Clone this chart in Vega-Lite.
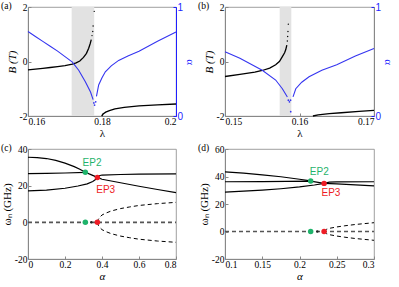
{
  "$schema": "https://vega.github.io/schema/vega-lite/v6.json",
  "padding": {"left": 0, "top": 0, "right": 0, "bottom": 0},
  "columns": 2,
  "spacing": {"row": 33, "column": 49},
  "bounds": "flush",
  "datasets": {
    "aB": [
      {"l": 0.16, "v": -0.31, "s": 1}, {"l": 0.162, "v": -0.28, "s": 1}, {"l": 0.164, "v": -0.25, "s": 1},
      {"l": 0.166, "v": -0.22, "s": 1}, {"l": 0.168, "v": -0.185, "s": 1}, {"l": 0.17, "v": -0.15, "s": 1},
      {"l": 0.172, "v": -0.1, "s": 1}, {"l": 0.173, "v": -0.05, "s": 1}, {"l": 0.174, "v": 0.02, "s": 1},
      {"l": 0.175, "v": 0.15, "s": 1}, {"l": 0.1758, "v": 0.3, "s": 1}, {"l": 0.1764, "v": 0.49, "s": 1},
      {"l": 0.1768, "v": 0.65, "s": 1}, {"l": 0.1771, "v": 0.8, "s": 1},
      {"l": 0.1799, "v": -2, "s": 2}, {"l": 0.1803, "v": -1.93, "s": 2}, {"l": 0.181, "v": -1.86, "s": 2},
      {"l": 0.182, "v": -1.8, "s": 2}, {"l": 0.1835, "v": -1.74, "s": 2}, {"l": 0.186, "v": -1.68, "s": 2},
      {"l": 0.19, "v": -1.63, "s": 2}, {"l": 0.195, "v": -1.59, "s": 2}, {"l": 0.2, "v": -1.56, "s": 2}
    ],
    "aBp": [
      {"l": 0.1773, "v": 0.95}, {"l": 0.1775, "v": 1.1}, {"l": 0.1776, "v": 1.3}, {"l": 0.1779, "v": 1.84}
    ],
    "aA": [
      {"l": 0.16, "v": 0.775, "s": 1}, {"l": 0.162, "v": 0.73, "s": 1}, {"l": 0.164, "v": 0.685, "s": 1},
      {"l": 0.166, "v": 0.64, "s": 1}, {"l": 0.168, "v": 0.595, "s": 1}, {"l": 0.17, "v": 0.545, "s": 1},
      {"l": 0.172, "v": 0.495, "s": 1}, {"l": 0.1737, "v": 0.42, "s": 1}, {"l": 0.1755, "v": 0.315, "s": 1},
      {"l": 0.1769, "v": 0.22, "s": 1}, {"l": 0.1776, "v": 0.15, "s": 1},
      {"l": 0.1785, "v": 0.18, "s": 2}, {"l": 0.1791, "v": 0.285, "s": 2}, {"l": 0.18, "v": 0.35, "s": 2},
      {"l": 0.1809, "v": 0.405, "s": 2}, {"l": 0.1825, "v": 0.46, "s": 2}, {"l": 0.1845, "v": 0.51, "s": 2},
      {"l": 0.187, "v": 0.55, "s": 2}, {"l": 0.19, "v": 0.595, "s": 2}, {"l": 0.195, "v": 0.685, "s": 2},
      {"l": 0.2, "v": 0.77, "s": 2}
    ],
    "aAp": [
      {"l": 0.1778, "v": 0.12}, {"l": 0.178, "v": 0.1}, {"l": 0.1783, "v": 0.13}
    ],
    "bB": [
      {"l": 0.15, "v": -0.55, "s": 1}, {"l": 0.152, "v": -0.47, "s": 1}, {"l": 0.154, "v": -0.39, "s": 1},
      {"l": 0.155, "v": -0.33, "s": 1}, {"l": 0.156, "v": -0.24, "s": 1}, {"l": 0.1568, "v": -0.12, "s": 1},
      {"l": 0.1573, "v": 0.0, "s": 1}, {"l": 0.1577, "v": 0.18, "s": 1}, {"l": 0.158, "v": 0.32, "s": 1},
      {"l": 0.15815, "v": 0.43, "s": 1}, {"l": 0.1583, "v": 0.6, "s": 1},
      {"l": 0.1618, "v": -2, "s": 2}, {"l": 0.1625, "v": -1.96, "s": 2}, {"l": 0.164, "v": -1.91, "s": 2},
      {"l": 0.1656, "v": -1.88, "s": 2}, {"l": 0.168, "v": -1.83, "s": 2}, {"l": 0.17, "v": -1.79, "s": 2}
    ],
    "bBp": [
      {"l": 0.15837, "v": 0.75}, {"l": 0.15841, "v": 0.92}, {"l": 0.15845, "v": 1.1}, {"l": 0.1585, "v": 1.37}
    ],
    "bA": [
      {"l": 0.15, "v": 0.59, "s": 1}, {"l": 0.152, "v": 0.53, "s": 1}, {"l": 0.155, "v": 0.42, "s": 1},
      {"l": 0.1568, "v": 0.33, "s": 1}, {"l": 0.1577, "v": 0.25, "s": 1}, {"l": 0.15837, "v": 0.175, "s": 1},
      {"l": 0.15913, "v": 0.175, "s": 2}, {"l": 0.1595, "v": 0.25, "s": 2}, {"l": 0.1603, "v": 0.31, "s": 2},
      {"l": 0.16128, "v": 0.36, "s": 2}, {"l": 0.163, "v": 0.42, "s": 2}, {"l": 0.165, "v": 0.47, "s": 2},
      {"l": 0.1675, "v": 0.55, "s": 2}, {"l": 0.17, "v": 0.62, "s": 2}
    ],
    "bAp": [
      {"l": 0.1585, "v": 0.145}, {"l": 0.15865, "v": 0.13}, {"l": 0.1588, "v": 0.145}, {"l": 0.15882, "v": 0.04}
    ],
    "cS": [
      {"a": 0, "w": 35.5, "s": "T"}, {"a": 0.05, "w": 35.3, "s": "T"}, {"a": 0.1, "w": 34.8, "s": "T"},
      {"a": 0.15, "w": 33.8, "s": "T"}, {"a": 0.2, "w": 32.3, "s": "T"}, {"a": 0.25, "w": 30.4, "s": "T"},
      {"a": 0.28, "w": 29, "s": "T"}, {"a": 0.31, "w": 27.3, "s": "T"},
      {"a": 0, "w": 26.6, "s": "M"}, {"a": 0.1, "w": 26.7, "s": "M"}, {"a": 0.2, "w": 26.9, "s": "M"},
      {"a": 0.31, "w": 27.3, "s": "M"}, {"a": 0.34, "w": 26, "s": "M"}, {"a": 0.375, "w": 24.5, "s": "M"},
      {"a": 0, "w": 17.2, "s": "B"}, {"a": 0.1, "w": 17.6, "s": "B"}, {"a": 0.2, "w": 18.6, "s": "B"},
      {"a": 0.27, "w": 19.8, "s": "B"}, {"a": 0.32, "w": 21, "s": "B"}, {"a": 0.35, "w": 22.3, "s": "B"},
      {"a": 0.365, "w": 23.3, "s": "B"}, {"a": 0.375, "w": 24.5, "s": "B"},
      {"a": 0.375, "w": 24.5, "s": "F"}, {"a": 0.385, "w": 25.4, "s": "F"}, {"a": 0.4, "w": 25.8, "s": "F"},
      {"a": 0.5, "w": 26.1, "s": "F"}, {"a": 0.6, "w": 26.3, "s": "F"}, {"a": 0.8, "w": 26.4, "s": "F"},
      {"a": 0.375, "w": 24.5, "s": "D"}, {"a": 0.4, "w": 23.5, "s": "D"}, {"a": 0.5, "w": 21.6, "s": "D"},
      {"a": 0.6, "w": 19.7, "s": "D"}, {"a": 0.7, "w": 17.9, "s": "D"}, {"a": 0.8, "w": 16.2, "s": "D"}
    ],
    "cD": [
      {"a": 0, "w": 0, "s": "Z"}, {"a": 0.8, "w": 0, "s": "Z"},
      {"a": 0.375, "w": 0, "s": "U"}, {"a": 0.38, "w": 1.6, "s": "U"}, {"a": 0.39, "w": 3, "s": "U"},
      {"a": 0.4, "w": 4, "s": "U"}, {"a": 0.42, "w": 5, "s": "U"}, {"a": 0.45, "w": 6.2, "s": "U"},
      {"a": 0.5, "w": 7.5, "s": "U"}, {"a": 0.55, "w": 8.4, "s": "U"}, {"a": 0.6, "w": 9.2, "s": "U"},
      {"a": 0.7, "w": 10.2, "s": "U"}, {"a": 0.8, "w": 10.9, "s": "U"},
      {"a": 0.375, "w": 0, "s": "L"}, {"a": 0.38, "w": -1.6, "s": "L"}, {"a": 0.39, "w": -3, "s": "L"},
      {"a": 0.4, "w": -4, "s": "L"}, {"a": 0.42, "w": -5, "s": "L"}, {"a": 0.45, "w": -6.2, "s": "L"},
      {"a": 0.5, "w": -7.5, "s": "L"}, {"a": 0.55, "w": -8.4, "s": "L"}, {"a": 0.6, "w": -9.2, "s": "L"},
      {"a": 0.7, "w": -10.2, "s": "L"}, {"a": 0.8, "w": -10.9, "s": "L"}
    ],
    "cP": [
      {"a": 0.31, "w": 27.3, "k": "EP2"}, {"a": 0.31, "w": 0, "k": "EP2"},
      {"a": 0.375, "w": 24.5, "k": "EP3"}, {"a": 0.375, "w": 0, "k": "EP3"},
      {"a": 0.342, "w": 0, "k": "X"}
    ],
    "cT": [
      {"a": 0.346, "w": 32.3, "t": "EP2", "k": "EP2"}, {"a": 0.42, "w": 17.7, "t": "EP3", "k": "EP3"}
    ],
    "dS": [
      {"a": 0.1, "w": 43.3, "s": "T"}, {"a": 0.125, "w": 42.5, "s": "T"}, {"a": 0.15, "w": 41.2, "s": "T"},
      {"a": 0.175, "w": 39.8, "s": "T"}, {"a": 0.2, "w": 38, "s": "T"}, {"a": 0.215, "w": 36.8, "s": "T"},
      {"a": 0.1, "w": 36.2, "s": "M"}, {"a": 0.15, "w": 36.3, "s": "M"}, {"a": 0.215, "w": 36.6, "s": "M"},
      {"a": 0.233, "w": 35.0, "s": "M"},
      {"a": 0.1, "w": 28.6, "s": "B"}, {"a": 0.125, "w": 29.3, "s": "B"}, {"a": 0.15, "w": 30.1, "s": "B"},
      {"a": 0.175, "w": 31.1, "s": "B"}, {"a": 0.2, "w": 32.4, "s": "B"}, {"a": 0.22, "w": 33.8, "s": "B"},
      {"a": 0.233, "w": 35.0, "s": "B"},
      {"a": 0.233, "w": 35.0, "s": "F"}, {"a": 0.24, "w": 35.9, "s": "F"}, {"a": 0.25, "w": 36.1, "s": "F"},
      {"a": 0.3, "w": 36.2, "s": "F"},
      {"a": 0.233, "w": 35.0, "s": "D"}, {"a": 0.25, "w": 34.6, "s": "D"}, {"a": 0.275, "w": 33.9, "s": "D"},
      {"a": 0.3, "w": 33.2, "s": "D"}
    ],
    "dD": [
      {"a": 0.1, "w": 0, "s": "Z"}, {"a": 0.3, "w": 0, "s": "Z"},
      {"a": 0.233, "w": 0, "s": "U"}, {"a": 0.236, "w": 1.5, "s": "U"}, {"a": 0.24, "w": 2.3, "s": "U"},
      {"a": 0.25, "w": 3.3, "s": "U"}, {"a": 0.26, "w": 4.1, "s": "U"}, {"a": 0.275, "w": 5.1, "s": "U"},
      {"a": 0.3, "w": 6.4, "s": "U"},
      {"a": 0.233, "w": 0, "s": "L"}, {"a": 0.236, "w": -1.5, "s": "L"}, {"a": 0.24, "w": -2.3, "s": "L"},
      {"a": 0.25, "w": -3.3, "s": "L"}, {"a": 0.26, "w": -4.1, "s": "L"}, {"a": 0.275, "w": -5.1, "s": "L"},
      {"a": 0.3, "w": -6.4, "s": "L"}
    ],
    "dP": [
      {"a": 0.215, "w": 36.8, "k": "EP2"}, {"a": 0.215, "w": 0, "k": "EP2"},
      {"a": 0.233, "w": 35.0, "k": "EP3"}, {"a": 0.233, "w": 0, "k": "EP3"},
      {"a": 0.224, "w": 0, "k": "X"}
    ],
    "dT": [
      {"a": 0.2265, "w": 43.2, "t": "EP2", "k": "EP2"}, {"a": 0.2422, "w": 27.8, "t": "EP3", "k": "EP3"}
    ]
  },
  "concat": [
    {
      "width": 148, "height": 109,
      "title": {"text": "(a)", "anchor": "start", "frame": "group", "baseline": "top", "offset": 0, "dx": -27, "dy": 8.5},
      "layer": [
        {
          "data": {"values": [{"x1": 0.1718, "x2": 0.1779}]},
          "mark": {"type": "rect", "color": "#e2e2e2"},
          "encoding": {
            "x": {"field": "x1", "type": "quantitative", "scale": {"domain": [0.16, 0.2], "nice": false},
                  "axis": {"values": [0.16, 0.17, 0.18, 0.19, 0.2], "format": ".2~f", "title": "λ"}},
            "x2": {"field": "x2"}
          }
        },
        {
          "layer": [
            {
              "data": {"name": "aB"},
              "mark": {"type": "line", "color": "black", "strokeWidth": 1.3},
              "encoding": {
                "x": {"field": "l", "type": "quantitative"},
                "y": {"field": "v", "type": "quantitative", "scale": {"domain": [-2, 2], "nice": false},
                      "axis": {"values": [-2, 0, 2], "labelExpr": "replace(datum.label, '−', '-')", "title": "B (T)", "titleFontStyle": "italic"}},
                "detail": {"field": "s"}
              }
            },
            {
              "data": {"name": "aBp"},
              "mark": {"type": "circle", "color": "black", "size": 2, "opacity": 1},
              "encoding": {
                "x": {"field": "l", "type": "quantitative"},
                "y": {"field": "v", "type": "quantitative"}
              }
            }
          ]
        },
        {
          "layer": [
            {
              "data": {"name": "aA"},
              "mark": {"type": "line", "color": "#3535f0", "strokeWidth": 1.1},
              "encoding": {
                "x": {"field": "l", "type": "quantitative"},
                "y": {"field": "v", "type": "quantitative", "scale": {"domain": [0, 1], "nice": false},
                      "axis": {"orient": "right", "values": [0, 1], "format": "~g", "title": "α", "domainColor": "#1f1fff", "tickColor": "#1f1fff", "labelColor": "#1f1fff", "titleColor": "#1f1fff", "labelFont": "Liberation Sans", "labelFontSize": 10}},
                "detail": {"field": "s"}
              }
            },
            {
              "data": {"name": "aAp"},
              "mark": {"type": "circle", "color": "#3535f0", "size": 3, "opacity": 1},
              "encoding": {
                "x": {"field": "l", "type": "quantitative"},
                "y": {"field": "v", "type": "quantitative"}
              }
            }
          ]
        }
      ],
      "resolve": {"scale": {"y": "independent"}}
    },
    {
      "width": 149, "height": 109,
      "title": {"text": "(b)", "anchor": "start", "frame": "group", "baseline": "top", "offset": 0, "dx": -27, "dy": 8.5},
      "layer": [
        {
          "data": {"values": [{"x1": 0.15734, "x2": 0.1589}]},
          "mark": {"type": "rect", "color": "#e2e2e2"},
          "encoding": {
            "x": {"field": "x1", "type": "quantitative", "scale": {"domain": [0.15, 0.17], "nice": false},
                  "axis": {"values": [0.15, 0.155, 0.16, 0.165, 0.17], "format": ".3~f", "title": "λ"}},
            "x2": {"field": "x2"}
          }
        },
        {
          "layer": [
            {
              "data": {"name": "bB"},
              "mark": {"type": "line", "color": "black", "strokeWidth": 1.3},
              "encoding": {
                "x": {"field": "l", "type": "quantitative"},
                "y": {"field": "v", "type": "quantitative", "scale": {"domain": [-2, 2], "nice": false},
                      "axis": {"values": [-2, 0, 2], "labelExpr": "replace(datum.label, '−', '-')", "title": "B (T)", "titleFontStyle": "italic"}},
                "detail": {"field": "s"}
              }
            },
            {
              "data": {"name": "bBp"},
              "mark": {"type": "circle", "color": "black", "size": 2, "opacity": 1},
              "encoding": {
                "x": {"field": "l", "type": "quantitative"},
                "y": {"field": "v", "type": "quantitative"}
              }
            }
          ]
        },
        {
          "layer": [
            {
              "data": {"name": "bA"},
              "mark": {"type": "line", "color": "#3535f0", "strokeWidth": 1.1},
              "encoding": {
                "x": {"field": "l", "type": "quantitative"},
                "y": {"field": "v", "type": "quantitative", "scale": {"domain": [0, 1], "nice": false},
                      "axis": {"orient": "right", "values": [0, 1], "format": "~g", "title": "α", "domainColor": "#888", "tickColor": "#1f1fff", "labelColor": "#1f1fff", "titleColor": "#1f1fff", "labelFont": "Liberation Sans", "labelFontSize": 10}},
                "detail": {"field": "s"}
              }
            },
            {
              "data": {"name": "bAp"},
              "mark": {"type": "circle", "color": "#3535f0", "size": 3, "opacity": 1},
              "encoding": {
                "x": {"field": "l", "type": "quantitative"},
                "y": {"field": "v", "type": "quantitative"}
              }
            }
          ]
        }
      ],
      "resolve": {"scale": {"y": "independent"}}
    },
    {
      "width": 148, "height": 110,
      "title": {"text": "(c)", "anchor": "start", "frame": "group", "baseline": "top", "offset": 0, "dx": -27, "dy": 8.5},
      "encoding": {
        "x": {"field": "a", "type": "quantitative", "scale": {"domain": [0, 0.8], "nice": false},
              "axis": {"values": [0, 0.2, 0.4, 0.6, 0.8], "format": "~g", "title": "α", "titleFontStyle": "italic"}},
        "y": {"field": "w", "type": "quantitative", "scale": {"domain": [-20, 40], "nice": false},
              "axis": {"values": [-20, 0, 20, 40], "labelExpr": "replace(datum.label, '−', '-')", "title": "ωₙ (GHz)"}}
      },
      "layer": [
        {"data": {"name": "cS"}, "mark": {"type": "line", "color": "black", "strokeWidth": 1.2}, "encoding": {"detail": {"field": "s"}}},
        {"data": {"name": "cD"}, "transform": [{"filter": "datum.s == 'Z'"}], "mark": {"type": "line", "color": "#555", "strokeWidth": 1.6, "strokeDash": [4, 3]}, "encoding": {"detail": {"field": "s"}}},
        {"data": {"name": "cD"}, "transform": [{"filter": "datum.s != 'Z'"}], "mark": {"type": "line", "color": "black", "strokeWidth": 1, "strokeDash": [4, 3]}, "encoding": {"detail": {"field": "s"}}},
        {"data": {"name": "cP"}, "mark": {"type": "circle", "size": 30, "opacity": 1},
         "encoding": {"color": {"field": "k", "type": "nominal", "scale": {"domain": ["EP2", "EP3", "X"], "range": ["#1fb36b", "#ee1c25", "#222222"]}, "legend": null},
                      "size": {"condition": {"test": "datum.k == 'X'", "value": 6}, "value": 30}}},
        {"data": {"name": "cT"}, "mark": {"type": "text", "font": "Liberation Sans", "fontSize": 10},
         "encoding": {"text": {"field": "t"}, "color": {"field": "k", "type": "nominal", "scale": {"domain": ["EP2", "EP3", "X"], "range": ["#1fb36b", "#ee1c25", "#222222"]}, "legend": null}}}
      ]
    },
    {
      "width": 149, "height": 110,
      "title": {"text": "(d)", "anchor": "start", "frame": "group", "baseline": "top", "offset": 0, "dx": -27, "dy": 8.5},
      "encoding": {
        "x": {"field": "a", "type": "quantitative", "scale": {"domain": [0.1, 0.3], "nice": false},
              "axis": {"values": [0.1, 0.15, 0.2, 0.25, 0.3], "format": ".2~f", "title": "α", "titleFontStyle": "italic"}},
        "y": {"field": "w", "type": "quantitative", "scale": {"domain": [-20, 60], "nice": false},
              "axis": {"values": [-20, 0, 20, 40, 60], "labelExpr": "replace(datum.label, '−', '-')", "title": "ωₙ (GHz)"}}
      },
      "layer": [
        {"data": {"name": "dS"}, "mark": {"type": "line", "color": "black", "strokeWidth": 1.2}, "encoding": {"detail": {"field": "s"}}},
        {"data": {"name": "dD"}, "transform": [{"filter": "datum.s == 'Z'"}], "mark": {"type": "line", "color": "#555", "strokeWidth": 1.6, "strokeDash": [4, 3]}, "encoding": {"detail": {"field": "s"}}},
        {"data": {"name": "dD"}, "transform": [{"filter": "datum.s != 'Z'"}], "mark": {"type": "line", "color": "black", "strokeWidth": 1, "strokeDash": [4, 3]}, "encoding": {"detail": {"field": "s"}}},
        {"data": {"name": "dP"}, "mark": {"type": "circle", "size": 30, "opacity": 1},
         "encoding": {"color": {"field": "k", "type": "nominal", "scale": {"domain": ["EP2", "EP3", "X"], "range": ["#1fb36b", "#ee1c25", "#222222"]}, "legend": null},
                      "size": {"condition": {"test": "datum.k == 'X'", "value": 6}, "value": 30}}},
        {"data": {"name": "dT"}, "mark": {"type": "text", "font": "Liberation Sans", "fontSize": 10},
         "encoding": {"text": {"field": "t"}, "color": {"field": "k", "type": "nominal", "scale": {"domain": ["EP2", "EP3", "X"], "range": ["#1fb36b", "#ee1c25", "#222222"]}, "legend": null}}}
      ]
    }
  ],
  "config": {
    "view": {"stroke": "#888", "strokeWidth": 0.8},
    "axis": {"grid": false, "domainColor": "#888", "tickColor": "#888", "tickSize": -3, "labelFont": "Liberation Serif", "labelFontSize": 9.5, "labelColor": "black", "titleFont": "Liberation Serif", "titleFontSize": 11, "titleFontWeight": "normal", "titleColor": "black", "labelPadding": 4, "titlePadding": 2},
    "axisX": {"labelPadding": 3},
    "title": {"font": "Liberation Serif", "fontSize": 9.5, "fontWeight": "normal", "color": "black"}
  }
}
